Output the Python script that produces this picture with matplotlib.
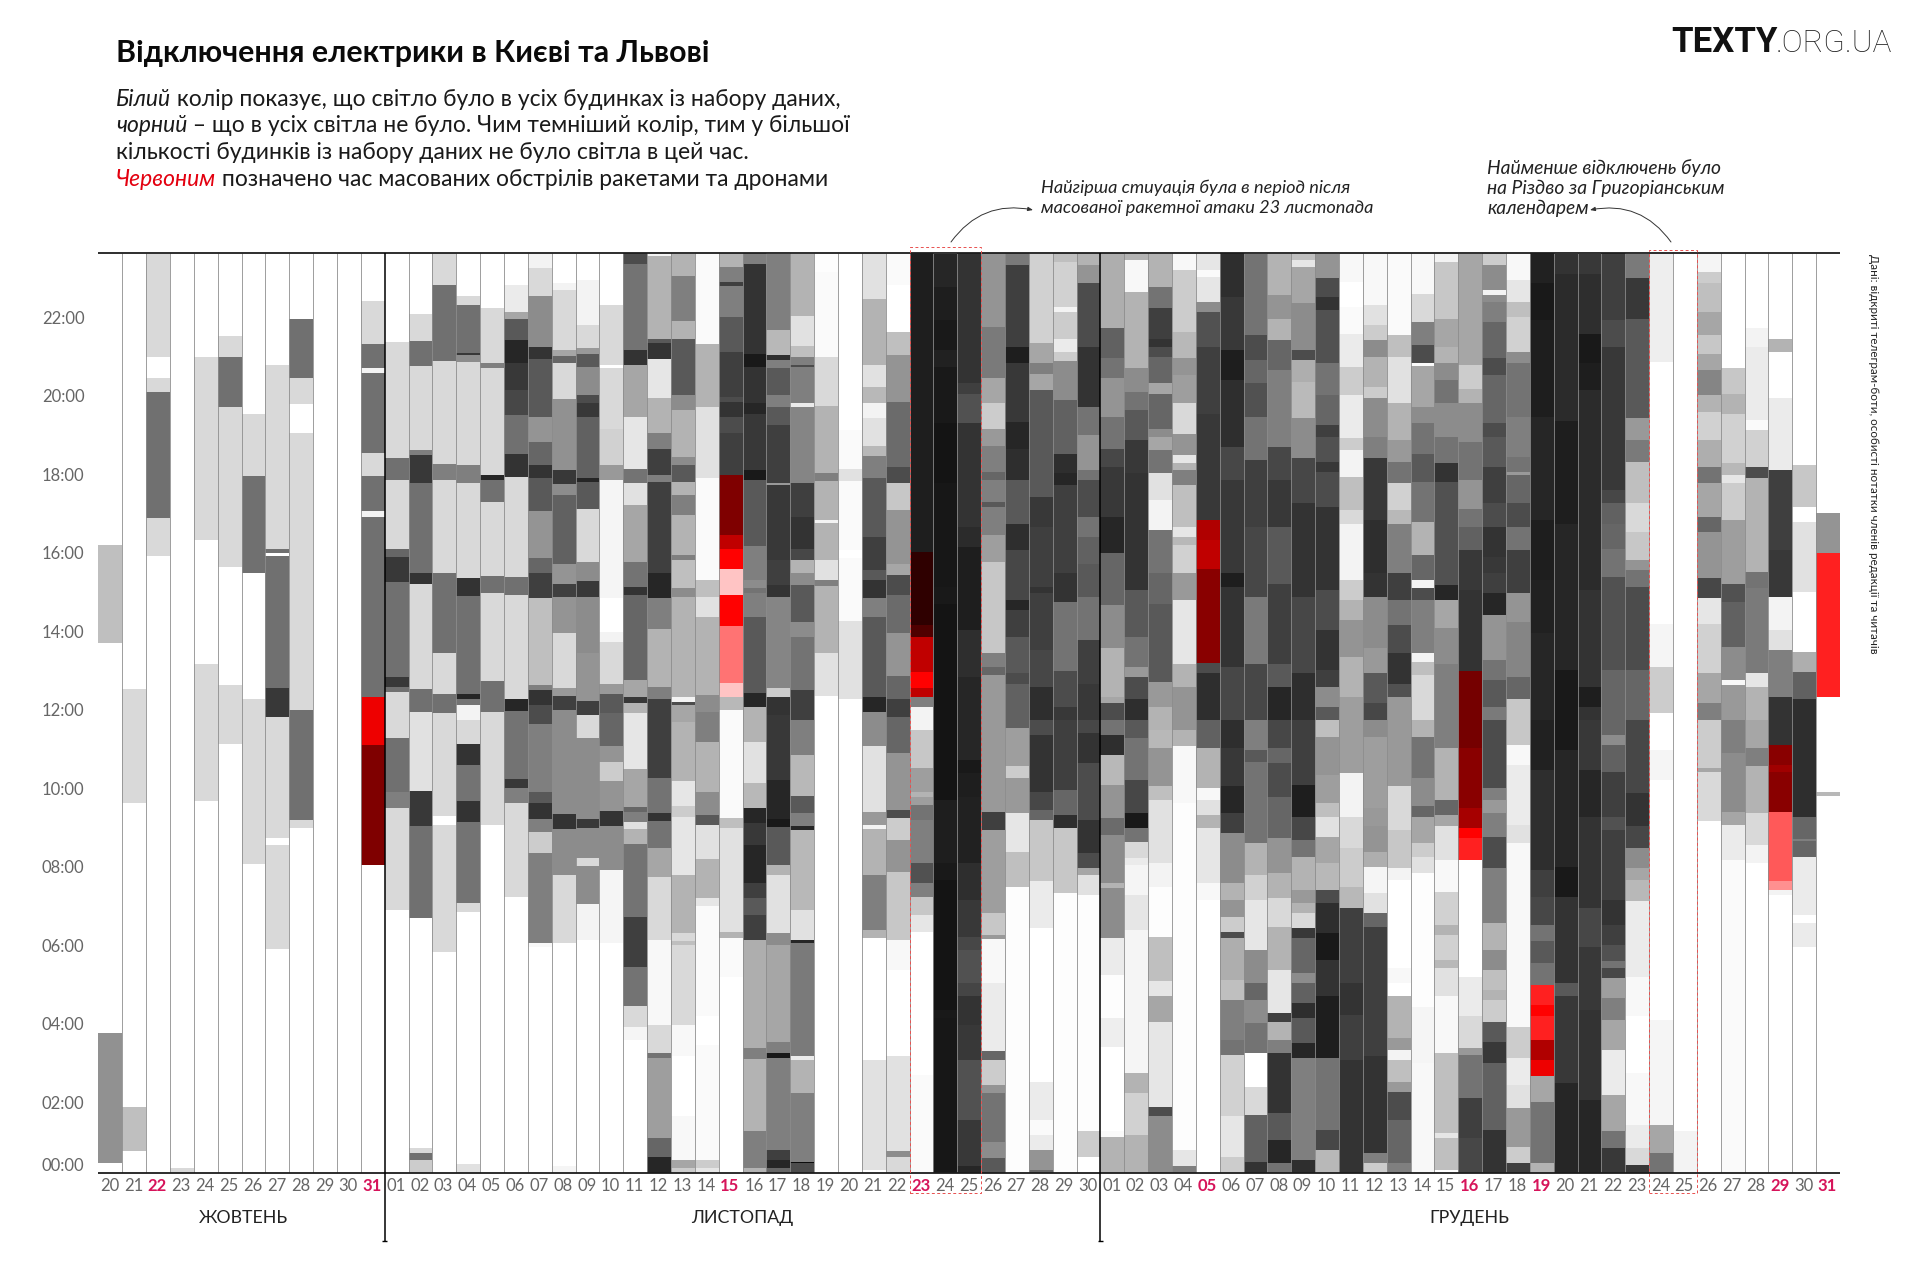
import matplotlib
matplotlib.use("Agg")
import matplotlib.pyplot as plt
from matplotlib.colors import LinearSegmentedColormap
from matplotlib.patches import Rectangle

# Each day: (upper edge in hours, share of houses without power); a segment runs down to the next edge.
oct_20 = [(23.63,0),(16.2,.25),(13.7,0),(3.78,.43),(.45,0)]
oct_21 = [(23.63,0),(12.53,.15),(9.62,0),(1.87,.25),(.77,0)]
oct_22 = [(23.63,.15),(21.0,0),(20.45,.15),(20.1,.56),(16.9,.15),(15.92,0)]
oct_23 = [(23.63,0),(.32,.15)]
oct_24 = [(23.63,0),(21.0,.15),(16.33,0),(13.17,.15),(9.69,0)]
oct_25 = [(23.63,0),(21.52,.15),(20.98,.56),(19.72,.15),(15.63,0),(12.63,.15),(11.13,0)]
oct_26 = [(23.63,0),(19.54,.15),(17.97,.56),(15.48,0),(12.29,.15),(8.08,0)]
oct_27 = [(23.63,0),(20.78,.15),(16.11,.56),(15.99,0),(15.93,.56),(12.57,.78),(11.81,.15),(8.73,0),(8.56,.15),(5.92,0)]
oct_28 = [(23.63,0),(21.97,.56),(20.45,.15),(19.79,0),(19.05,.15),(12.0,.56),(9.2,.15),(8.98,0)]
oct_29 = [(23.63,0)]
oct_30 = [(23.63,0)]
oct_31 = [(23.63,0),(22.42,.15),(21.32,.56),(20.72,.05),(20.59,.56),(18.55,.15),(17.97,.56),(17.07,.05),(16.92,.56),(12.32,0)]

nov_01 = [(23.63,0),(21.38,.15),(18.41,.56),(17.87,.15),(16.11,.6),(15.9,.78),(15.25,.56),(12.83,.78),(12.59,.56),(12.45,.15),(11.28,.56),(9.92,.5),(9.5,.15),(6.9,0)]
nov_02 = [(23.63,0),(22.1,.15),(21.4,.56),(20.76,.15),(18.62,.5),(18.49,.78),(17.77,.56),(15.49,.8),(15.22,.15),(12.53,.56),(11.95,.12),(9.94,.78),(9.03,.56),(6.69,0),(.83,.15),(.7,.56),(.53,.2)]
nov_03 = [(23.63,.15),(22.82,.56),(20.9,.15),(18.26,.5),(17.87,.15),(15.48,.56),(13.44,.15),(12.4,.56),(11.91,.15),(9.3,0),(9.07,.15),(5.84,0)]
nov_04 = [(23.63,0),(22.54,.15),(22.31,.56),(21.1,.78),(21.04,.45),(20.86,.15),(18.24,.5),(17.79,.15),(15.35,.8),(14.91,.56),(12.4,.85),(12.29,.55),(12.12,.05),(11.74,.15),(11.13,.8),(10.6,.55),(9.68,.8),(9.15,.55),(7.07,.15),(6.86,0),(.42,.12)]
nov_05 = [(23.63,0),(22.25,.15),(20.83,.5),(20.7,.15),(17.98,.85),(17.87,.56),(17.29,.15),(15.41,.56),(14.99,.15),(12.74,.56),(11.95,.15),(9.07,0)]
nov_06 = [(23.63,0),(22.84,.08),(22.14,.35),(21.95,.65),(21.42,.85),(20.83,.78),(20.15,.72),(19.51,.56),(18.53,.8),(17.94,.15),(15.38,.56),(14.93,.15),(12.27,.85),(11.98,.55),(10.23,.78),(10.0,.5),(9.62,.15),(7.23,0)]
nov_07 = [(23.63,.05),(23.27,.15),(22.54,.45),(21.24,.8),(20.93,.65),(19.47,.42),(18.83,.6),(18.24,.8),(17.92,.65),(17.07,.42),(15.86,.6),(15.5,.75),(14.84,.25),(12.63,.5),(12.5,.8),(12.12,.7),(11.64,.5),(9.92,.65),(9.62,.8),(9.21,.5),(8.9,.2),(8.35,.5),(6.07,.03),(5.97,0)]
nov_08 = [(23.63,0),(22.87,.05),(22.71,.15),(21.17,.35),(21.01,.6),(20.85,.15),(19.91,.43),(18.11,.78),(17.75,.45),(17.47,.62),(15.73,.42),(15.22,.75),(14.87,.42),(13.97,.15),(12.57,.4),(12.35,.75),(12.0,.45),(9.34,.8),(8.96,.45),(7.8,.15),(6.07,0),(.37,.04)]
nov_09 = [(23.63,0),(22.95,.05),(21.8,.15),(21.23,.4),(21.07,.65),(20.73,.45),(20.02,.7),(19.81,.78),(19.47,.62),(17.9,.85),(17.8,.65),(17.13,.15),(15.77,.45),(15.29,.78),(14.88,.45),(13.45,.42),(12.23,.75),(11.87,.15),(11.28,.45),(9.21,.78),(9.0,.45),(8.22,.15),(8.03,.45),(7.06,.05),(6.14,0)]
nov_10 = [(23.63,0),(22.31,.15),(20.79,0),(20.7,.15),(19.17,.18),(18.24,.4),(17.86,.04),(14.84,0),(13.99,.05),(13.74,.15),(12.67,.4),(12.4,.65),(11.91,.6),(11.07,.42),(10.68,.2),(10.2,.42),(9.43,.8),(9.04,.45),(7.92,.04),(6.05,0)]
nov_11 = [(23.63,.7),(23.36,.55),(21.17,.8),(20.79,.35),(19.47,.1),(18.15,.55),(17.77,.12),(17.22,.35),(15.77,.55),(15.14,.8),(14.93,.6),(12.76,.35),(12.32,.78),(12.17,.3),(11.91,.1),(10.49,.35),(9.52,.6),(9.41,.5),(9.15,.12),(8.96,.3),(8.59,.55),(6.72,.75),(5.44,.55),(4.46,.15),(3.93,.04),(3.59,0)]
nov_12 = [(23.63,.05),(23.56,.3),(21.44,.65),(21.34,.8),(20.93,.1),(19.96,.3),(19.06,.5),(18.64,.75),(17.99,.5),(17.81,.75),(15.48,.85),(14.84,.5),(14.05,.3),(12.59,.5),(12.29,.75),(10.26,.55),(9.37,.8),(9.16,.55),(8.47,.35),(7.74,.15),(6.14,.03),(3.97,.15),(3.25,.55),(3.12,.38),(1.09,.6),(.62,.85)]
nov_13 = [(23.63,.3),(23.05,.5),(21.92,.3),(21.44,.65),(20.02,.45),(19.64,.3),(18.45,.45),(18.24,.65),(17.81,.3),(17.47,.5),(16.96,.3),(15.94,.5),(15.82,.25),(15.1,.45),(14.87,.3),(12.34,.05),(12.21,.7),(12.12,.35),(11.68,.3),(10.2,.1),(9.54,.2),(9.28,.1),(7.8,.3),(6.31,.15),(6.1,.25),(6.01,.15),(3.97,.03),(3.17,0),(1.64,.03),(.53,.35),(.32,.2)]
nov_14 = [(23.63,.02),(21.32,.3),(19.72,.12),(17.9,.02),(15.31,.25),(14.88,.12),(14.37,.3),(12.38,.45),(11.95,.5),(11.17,.3),(9.92,.45),(9.32,.65),(9.07,.12),(8.2,.3),(7.2,.1),(7.0,.02),(4.19,0),(3.46,.02),(.53,.2),(.32,.1)]
nov_15 = [(23.63,.3),(23.29,.5),(22.91,.75),(22.8,.5),(22.02,.65),(21.12,.75),(19.98,.7),(19.85,.8),(19.47,.7),(19.05,.75),(12.32,.28),(12.01,.02),(9.24,.25),(8.99,.12),(6.35,.3),(6.18,.02),(5.2,0)]
nov_16 = [(23.63,.5),(23.36,.8),(21.08,.9),(20.74,.8),(19.81,.85),(19.55,.78),(18.11,.9),(17.86,.65),(16.17,.5),(15.31,.45),(15.1,.55),(14.97,.5),(14.37,.65),(12.42,.85),(12.08,.3),(11.17,.12),(10.15,.28),(9.5,.85),(9.11,.78),(8.56,.85),(7.58,.75),(7.2,.65),(6.78,.75),(6.14,.32),(3.38,.5),(3.1,.3),(1.26,.5),(.32,.3)]
nov_17 = [(23.63,.5),(21.68,.28),(21.04,.82),(20.91,.5),(20.7,.65),(20.02,.5),(19.72,.65),(19.26,.75),(17.77,.4),(17.73,.78),(15.82,.75),(15.18,.8),(14.88,.48),(12.55,.2),(12.34,.8),(11.87,.78),(10.22,.85),(9.21,.9),(9.01,.65),(8.05,.3),(7.8,.12),(6.31,.45),(6.01,.35),(3.55,.5),(3.25,.9),(3.12,.5),(.79,.75),(.53,.85),(.32,.6)]
nov_18 = [(23.63,.3),(22.03,.12),(21.27,.25),(21.0,.5),(20.8,.7),(20.74,.5),(19.81,.08),(19.72,.48),(17.77,.75),(16.92,.8),(16.11,.72),(15.82,.3),(15.48,.45),(15.18,.65),(14.25,.45),(13.85,.55),(12.5,.75),(11.74,.5),(10.85,.28),(9.81,.65),(9.37,.5),(9.03,.85),(8.94,.28),(6.9,.12),(6.14,.85),(6.05,.52),(3.17,.08),(3.08,.3),(2.25,.5),(.49,.95),(.45,.7)]
nov_19 = [(23.63,.01),(23.16,.02),(21.0,.15),(19.74,.3),(18.03,.5),(17.84,.3),(16.84,.05),(16.77,.3),(15.82,.12),(15.31,.5),(15.15,.3),(13.44,.12),(12.35,0)]
nov_20 = [(23.63,0),(19.13,.02),(18.15,.12),(17.84,.02),(16.07,0),(15.86,.02),(14.27,.12),(12.27,0)]
nov_21 = [(23.63,.12),(22.46,.3),(20.79,.12),(20.23,.28),(19.81,.05),(19.43,.12),(18.72,.28),(18.47,.5),(17.92,.65),(16.41,.75),(15.56,.65),(15.31,.8),(14.84,.5),(14.37,.65),(12.34,.85),(11.95,.45),(11.07,.12),(9.41,.4),(9.07,.05),(8.96,.3),(7.8,.5),(6.4,.3),(6.18,0),(3.08,.12),(.28,0)]
nov_22 = [(23.63,.02),(22.82,0),(21.63,.25),(21.04,.42),(19.85,.58),(18.2,.7),(17.77,.22),(17.09,.42),(15.73,.35),(15.44,.7),(14.93,.58),(13.95,.42),(12.86,.6),(12.29,.75),(11.82,.6),(10.91,.42),(9.45,.7),(9.24,.2),(8.69,.42),(7.86,.22),(6.14,.03),(5.37,0),(3.17,.12),(.75,.45),(.62,.15)]
nov_23 = [(23.63,.88),(12.32,.5),(12.08,.05),(11.49,.22),(10.51,.38),(9.92,.3),(9.79,.38),(9.58,.55),(9.2,.5),(8.09,.68),(7.58,.5),(7.24,.22),(6.78,.1),(6.33,0),(2.7,.02)]
nov_24 = [(23.63,.85),(22.78,.88),(21.93,.9),(21.17,.87),(20.74,.9),(19.3,.92),(17.77,.91),(15.14,.9),(14.71,.92),(9.71,.88),(8.09,.9),(7.67,.92),(4.36,.9),(4.15,.91)]
nov_25 = [(23.63,.8),(20.32,.75),(20.06,.68),(19.3,.8),(16.67,.83),(16.16,.88),(14.03,.82),(12.84,.85),(10.73,.9),(10.39,.88),(9.79,.87),(8.09,.82),(7.16,.78),(6.22,.72),(5.89,.68),(5.04,.73),(4.7,.8),(3.97,.78),(3.08,.68),(1.55,.78),(.37,.85)]
nov_26 = [(23.63,.42),(21.76,.52),(20.47,.35),(19.81,.2),(19.17,.4),(18.72,.5),(18.07,.6),(17.86,.5),(17.3,.65),(17.18,.5),(16.45,.38),(15.77,.22),(13.44,.5),(13.1,.6),(12.89,.4),(9.41,.75),(8.94,.38),(6.82,.22),(6.27,.4),(6.16,.03),(5.04,.08),(3.3,.6),(3.08,.2),(2.45,.42),(2.25,.55),(1.0,.45),(.58,.65)]
nov_27 = [(23.63,.52),(23.33,.75),(21.25,.88),(20.83,.78),(19.34,.85),(18.66,.82),(17.86,.65),(16.75,.82),(16.07,.72),(14.8,.85),(14.54,.75),(13.86,.65),(12.93,.7),(12.67,.62),(11.53,.38),(10.56,.2),(10.26,.4),(9.37,.1),(8.39,.25),(7.5,.01)]
nov_28 = [(23.63,.18),(21.34,.35),(20.83,.5),(20.57,.35),(20.15,.65),(17.43,.78),(16.67,.75),(15.14,.8),(14.97,.75),(13.52,.72),(12.59,.82),(11.74,.7),(11.36,.8),(9.92,.72),(9.45,.6),(9.2,.22),(7.63,.08),(6.44,0),(2.53,.08),(1.55,.02),(1.17,.08),(.79,.42),(.28,.6)]
nov_29 = [(23.63,.25),(23.42,.18),(22.27,.05),(22.14,.2),(21.44,.08),(21.12,.2),(20.9,.45),(19.89,.62),(18.53,.82),(18.03,.85),(17.73,.75),(15.48,.8),(14.76,.55),(13.0,.7),(12.08,.78),(11.74,.75),(9.96,.6),(9.32,.82),(8.99,.22),(7.33,.01)]
nov_30 = [(23.63,.3),(23.33,.42),(22.87,.7),(21.25,.8),(19.72,.55),(19.0,.42),(18.11,.55),(17.86,.7),(16.92,.55),(16.41,.62),(15.73,.65),(14.88,.55),(13.78,.75),(12.67,.78),(11.74,.72),(11.4,.8),(10.64,.7),(9.2,.8),(8.35,.7),(7.97,.35),(7.8,.12),(7.29,.01),(1.26,.2),(.62,0)]

dec_01 = [(23.63,.32),(21.72,.62),(20.96,.55),(20.45,.42),(19.47,.55),(18.66,.72),(18.2,.78),(16.92,.85),(15.99,.6),(14.67,.45),(13.57,.3),(12.34,.35),(12.17,.7),(11.74,.55),(11.36,.82),(10.85,.28),(10.09,.42),(9.24,.58),(8.82,.45),(7.58,.3),(7.46,.45),(6.18,.08),(5.25,.01),(4.14,.07),(3.42,0),(1.26,.02),(1.13,.3)]
dec_02 = [(23.63,.3),(23.46,.03),(22.65,.3),(20.7,.45),(20.1,.55),(19.64,.65),(18.87,.78),(18.03,.8),(15.05,.65),(13.86,.55),(13.1,.4),(12.84,.7),(12.29,.82),(11.74,.65),(11.28,.55),(10.22,.72),(9.37,.9),(8.99,.55),(8.64,.15),(8.22,.08),(8.05,.04),(7.29,.1),(6.4,.04),(2.74,.3),(2.23,.18),(1.17,.3)]
dec_03 = [(23.63,.3),(22.78,.55),(22.23,.75),(21.46,.8),(21.25,.7),(21.0,.6),(20.32,.35),(20.06,.6),(19.17,.45),(18.96,.35),(18.62,.55),(18.03,.12),(17.35,.05),(16.58,.55),(15.48,.6),(14.71,.65),(12.72,.4),(12.08,.3),(11.49,.28),(11.02,.42),(10.05,.25),(9.71,.12),(8.09,.05),(7.5,.01),(6.22,.25),(5.08,.1),(4.7,.35),(4.06,.1),(1.89,.7),(1.64,.45)]
dec_04 = [(23.63,.03),(23.2,.2),(21.63,.28),(20.96,.42),(20.53,.38),(19.81,.15),(19.04,.42),(18.49,.1),(18.28,.3),(18.11,.5),(17.73,.25),(16.67,.1),(16.41,.28),(16.2,.18),(15.48,.4),(14.8,.1),(13.18,.3),(12.59,.42),(11.49,.3),(11.07,.03),(9.62,.01),(.79,.1),(.37,.5)]
dec_05 = [(23.63,.1),(23.2,.02),(23.04,.1),(22.4,.45),(22.14,.68),(21.25,.75),(19.55,.78),(13.2,.7),(12.93,.82),(11.74,.62),(11.02,.3),(10.0,.03),(9.71,.12),(9.32,.3),(8.99,.1),(7.58,.03),(7.16,0)]
dec_06 = [(23.63,.82),(22.53,.78),(21.17,.88),(20.4,.82),(18.7,.72),(17.86,.78),(15.48,.88),(15.14,.8),(13.1,.72),(11.74,.82),(11.02,.78),(10.05,.85),(9.37,.75),(8.86,.45),(7.58,.3),(7.16,.42),(6.73,.2),(6.35,.7),(6.18,.32),(5.12,.25),(4.61,.5),(3.59,.55),(3.21,.18),(1.64,.1),(.62,.2)]
dec_07 = [(23.63,.55),(21.55,.7),(20.91,.6),(20.32,.68),(19.47,.55),(18.37,.75),(16.67,.72),(14.88,.52),(13.18,.72),(11.74,.5),(10.98,.65),(10.68,.55),(8.6,.3),(7.8,.18),(7.16,.1),(5.89,.45),(5.04,.6),(4.61,.45),(4.02,.55),(3.25,0),(2.4,.15),(1.68,.62),(.49,.8)]
dec_08 = [(23.63,.3),(22.57,.42),(21.97,.3),(21.42,.6),(20.66,.5),(18.7,.72),(17.86,.78),(16.67,.65),(15.22,.75),(13.18,.65),(12.59,.85),(11.74,.72),(11.02,.6),(10.64,.7),(9.79,.6),(8.73,.42),(7.84,.3),(7.2,.15),(6.48,.3),(5.37,.1),(4.27,.75),(4.06,.3),(3.59,.5),(3.25,.8),(1.72,.65),(1.04,.85),(.45,.55)]
dec_09 = [(23.63,.25),(23.46,.1),(23.29,.35),(22.36,.45),(21.17,.7),(20.91,.32),(20.36,.27),(19.43,.45),(18.41,.72),(17.26,.8),(14.88,.72),(12.93,.82),(11.74,.75),(10.09,.88),(9.28,.72),(8.69,.55),(8.26,.3),(7.41,.4),(7.07,.3),(6.82,.15),(6.44,.78),(6.18,.6),(5.29,.45),(5.04,.62),(4.53,.82),(4.15,.65),(3.51,.85),(3.12,.5),(.53,.82)]
dec_10 = [(23.63,.42),(23.0,.7),(22.53,.8),(22.19,.68),(20.83,.55),(20.02,.6),(19.26,.75),(18.96,.68),(18.32,.78),(18.07,.7),(17.18,.8),(15.05,.7),(14.03,.8),(13.01,.75),(12.59,.45),(12.08,.65),(11.74,.25),(11.32,.42),(10.34,.38),(9.62,.25),(9.28,.12),(8.77,.35),(8.09,.28),(7.41,.7),(7.07,.82),(6.31,.9),(5.63,.8),(4.7,.88),(3.12,.55),(1.3,.72),(.79,.28)]
dec_11 = [(23.63,.03),(22.91,0),(22.27,.02),(21.59,.08),(20.74,.2),(20.02,.08),(18.92,.2),(18.62,.05),(17.94,.25),(17.09,.15),(16.75,.05),(15.31,.2),(14.8,.3),(14.29,.42),(13.35,.3),(12.34,.38),(10.39,.05),(9.28,.15),(8.47,.2),(7.5,.28),(6.95,.75),(5.04,.8),(4.23,.75),(3.08,.8)]
dec_12 = [(23.63,.03),(22.31,.12),(21.8,.2),(21.42,.45),(21.0,.3),(20.23,.2),(19.94,.45),(18.96,.5),(18.41,.78),(16.84,.82),(15.48,.8),(14.88,.45),(13.57,.4),(12.93,.65),(12.17,.72),(11.74,.45),(11.32,.38),(9.5,.4),(9.03,.42),(8.39,.32),(8.01,.04),(7.33,.12),(6.82,.6),(6.48,.75),(3.17,.8),(.7,.5),(.45,.2)]
dec_13 = [(23.63,.02),(21.55,.25),(21.0,.12),(19.81,.3),(18.87,.4),(18.32,.55),(17.77,.18),(17.09,.28),(16.75,.5),(15.48,.75),(14.8,.55),(14.16,.7),(13.44,.8),(12.67,.68),(12.34,.4),(10.05,.15),(8.94,.22),(7.97,.05),(7.67,0),(5.42,.03),(5.04,0),(4.7,.3),(3.63,.4),(3.34,.05),(3.08,.25),(2.53,.4),(2.27,.7),(1.55,.6),(.45,.5)]
dec_14 = [(23.63,.03),(22.61,.15),(21.89,.5),(21.3,.7),(20.83,.02),(20.76,.35),(19.72,.45),(19.3,.55),(18.53,.65),(17.81,.55),(16.79,.3),(15.94,.6),(15.31,.05),(15.1,.7),(14.8,.5),(13.44,.05),(13.23,.25),(12.89,.15),(11.74,.3),(11.32,.55),(10.26,.45),(9.54,.6),(9.28,.35),(8.6,.2),(8.26,.12),(7.84,.01),(4.44,.04),(3.0,.03)]
dec_15 = [(23.63,.05),(23.42,.22),(21.97,.35),(21.25,.3),(20.83,.45),(20.4,.55),(19.81,.45),(18.96,.55),(18.28,.8),(17.81,.68),(15.18,.85),(14.8,.35),(14.08,.45),(13.18,.5),(11.02,.3),(9.71,.6),(9.32,.35),(9.03,.12),(8.18,.03),(7.37,.18),(6.52,.3),(6.27,.18),(5.63,.28),(5.42,.12),(4.7,.03),(3.25,.25),(1.21,.1),(1.09,.25),(.28,0)]
dec_16 = [(23.63,.35),(20.79,.2),(20.19,.3),(19.81,.45),(18.83,.55),(17.86,.42),(17.13,.55),(16.67,.62),(16.07,.78),(15.05,.8),(8.18,0),(5.2,.08),(4.19,.15),(3.38,.4),(3.21,.55),(2.11,.75),(1.09,.72)]
dec_17 = [(23.63,.2),(23.33,.45),(22.7,.05),(22.57,.45),(22.4,.5),(21.89,.6),(20.96,.7),(20.53,.6),(19.3,.7),(18.96,.65),(18.2,.75),(17.26,.7),(16.67,.8),(15.9,.78),(15.48,.75),(14.97,.85),(14.42,.42),(13.27,.55),(12.76,.65),(12.08,.52),(11.74,.7),(10.0,.5),(9.71,.4),(9.37,.5),(8.77,.7),(7.97,.5),(6.56,.3),(5.89,.45),(5.38,.25),(4.87,.3),(4.61,.2),(4.06,.65),(3.55,.78),(3.0,.62),(1.3,.8)]
dec_18 = [(23.63,.03),(22.95,.1),(22.4,.25),(22.02,.18),(21.12,.45),(20.83,.55),(19.47,.5),(18.45,.55),(18.07,.4),(17.98,.6),(17.26,.7),(16.67,.55),(16.07,.75),(14.97,.42),(14.25,.48),(12.84,.6),(12.29,.22),(11.11,.03),(10.6,.08),(9.07,.12),(8.6,.03),(3.93,.2),(3.12,.08),(2.45,.12),(1.85,.4),(.87,.2),(.45,.75)]
dec_19 = [(23.63,.87),(22.87,.9),(21.93,.88),(19.47,.85),(16.84,.88),(15.31,.87),(13.95,.85),(11.74,.87),(10.47,.82),(7.92,.75),(7.24,.72),(6.52,.55),(6.1,.65),(5.55,.55),(2.67,.35),(2.02,.55),(.45,.3)]
dec_20 = [(23.63,.8),(23.12,.83),(19.36,.88),(16.75,.85),(13.01,.9),(10.98,.85),(8.01,.9),(7.24,.8),(5.04,.65),(4.7,.78),(2.49,.85)]
dec_21 = [(23.63,.78),(23.12,.82),(21.59,.9),(20.83,.88),(20.15,.83),(15.05,.8),(12.59,.88),(12.08,.8),(11.74,.78),(10.47,.85),(9.28,.8),(6.95,.72),(5.97,.78),(4.36,.8),(2.06,.85)]
dec_22 = [(23.63,.75),(21.93,.7),(21.25,.78),(17.6,.72),(17.26,.62),(16.75,.6),(16.11,.55),(15.39,.68),(13.01,.6),(11.74,.6),(11.36,.45),(11.11,.62),(10.43,.75),(9.28,.68),(8.94,.75),(7.16,.8),(6.52,.75),(6.01,.68),(5.59,.55),(5.42,.72),(5.16,.38),(4.65,.5),(4.1,.35),(3.34,.08),(2.19,.35),(1.26,.55),(.83,.78)]
dec_23 = [(23.63,.52),(23.0,.78),(21.97,.65),(19.43,.4),(18.87,.52),(18.32,.25),(17.26,.15),(16.54,.22),(15.82,.42),(15.56,.55),(15.14,.7),(13.01,.6),(11.74,.72),(9.88,.8),(9.03,.72),(8.47,.45),(7.97,.35),(7.67,.28),(7.12,.08),(5.2,.03),(4.19,0),(2.74,.03),(1.43,.08),(.83,.15),(.41,.78)]
dec_24 = [(23.63,.07),(20.87,0),(14.2,.04),(13.1,.2),(11.91,0),(10.98,.04),(10.22,0),(4.1,.04),(1.43,.35),(.7,.55)]
dec_25 = [(23.63,0),(1.26,.05)]
dec_26 = [(23.63,.04),(23.16,.2),(22.87,.25),(22.14,.35),(21.55,.22),(21.08,.35),(20.66,.48),(20.02,.3),(19.6,.18),(18.87,.32),(18.2,.55),(17.77,.35),(16.92,.6),(16.54,.42),(15.35,.72),(14.84,.1),(14.2,.18),(12.93,.35),(12.17,.5),(11.74,.2),(10.51,.35),(10.43,.15),(9.16,0)]
dec_27 = [(23.63,0),(20.7,.22),(20.06,.3),(19.55,.18),(18.28,.28),(17.98,.1),(17.77,.2),(16.84,.38),(15.22,.68),(14.76,.62),(13.61,.45),(12.76,.03),(12.63,.4),(11.74,.5),(10.9,.45),(9.41,.35),(9.07,.08),(8.18,.02)]
dec_28 = [(23.63,0),(21.72,.05),(21.25,.08),(19.38,.02),(19.13,.18),(18.2,.7),(17.9,.3),(15.52,.55),(15.1,.52),(12.93,.1),(12.59,.3),(11.74,.35),(11.02,.5),(10.56,.3),(9.37,.15),(8.56,.05),(8.09,0)]
dec_29 = [(23.63,0),(21.46,.3),(21.12,0),(19.94,.08),(18.11,.75),(16.07,.78),(14.88,.05),(14.03,.12),(13.52,.5),(12.34,.8),(7.42,.05),(7.29,0)]
dec_30 = [(23.63,0),(18.24,.22),(17.17,0),(16.8,.12),(15.0,0),(13.48,.32),(12.97,.62),(12.29,.82),(9.28,.6),(8.71,.5),(8.66,.6),(8.26,.08),(6.78,0),(6.57,.08),(5.97,0)]
dec_31 = [(23.63,0),(17.02,.42),(16.0,0),(9.92,.28),(9.81,0)]

# Attack periods drawn in red: (upper hour, lower hour, share without power)
red_oct_31 = [(12.32,11.11,.4),(11.11,8.05,.75)]
red_nov_15 = [(17.98,16.46,.75),(16.46,16.1,.55),(16.1,15.6,.3),(15.6,14.93,.05),(14.93,14.14,.3),(14.14,12.69,.12),(12.69,12.32,.05)]
red_nov_23 = [(16.03,14.16,.95),(14.16,13.85,.88),(13.85,12.97,.55),(12.97,12.55,.3),(12.55,12.32,.55)]
red_dec_05 = [(16.84,16.33,.6),(16.33,15.6,.55),(15.6,13.2,.72)]
red_dec_16 = [(13.0,11.02,.78),(11.02,9.5,.72),(9.5,8.98,.63),(8.98,8.73,.3),(8.73,8.18,.2)]
red_dec_19 = [(5.0,4.49,.2),(4.49,4.19,.3),(4.19,3.59,.2),(3.59,3.08,.6),(3.08,2.67,.4)]
red_dec_29 = [(11.11,10.6,.72),(10.6,10.43,.65),(10.43,9.41,.72),(9.41,7.63,.14),(7.63,7.41,.09)]
red_dec_31 = [(16.0,12.34,.2)]

october = [oct_20,oct_21,oct_22,oct_23,oct_24,oct_25,oct_26,oct_27,oct_28,oct_29,oct_30,oct_31]
november = [nov_01,nov_02,nov_03,nov_04,nov_05,nov_06,nov_07,nov_08,nov_09,nov_10,nov_11,nov_12,nov_13,nov_14,nov_15,nov_16,nov_17,nov_18,nov_19,nov_20,nov_21,nov_22,nov_23,nov_24,nov_25,nov_26,nov_27,nov_28,nov_29,nov_30]
december = [dec_01,dec_02,dec_03,dec_04,dec_05,dec_06,dec_07,dec_08,dec_09,dec_10,dec_11,dec_12,dec_13,dec_14,dec_15,dec_16,dec_17,dec_18,dec_19,dec_20,dec_21,dec_22,dec_23,dec_24,dec_25,dec_26,dec_27,dec_28,dec_29,dec_30,dec_31]
days = october + november + december
day_labels = [f"{d:02d}" for d in range(20,32)] + [f"{d:02d}" for d in range(1,31)] + [f"{d:02d}" for d in range(1,32)]
red_periods = {11:red_oct_31, 26:red_nov_15, 34:red_nov_23, 46:red_dec_05, 57:red_dec_16, 60:red_dec_19, 70:red_dec_29, 72:red_dec_31}
bold_days = [2, 11, 26, 34, 46, 57, 60, 70, 72]
hour_ticks = [.41,2,4,6,8,10,12,14,16,18,20,22]
hour_labels = ["00:00","02:00","04:00","06:00","08:00","10:00","12:00","14:00","16:00","18:00","20:00","22:00"]
months = [(6.1,"ЖОВТЕНЬ"),(27.0,"ЛИСТОПАД"),(57.45,"ГРУДЕНЬ")]

FONT = ["Lato","Open Sans","DejaVu Sans"]
plt.rcParams["font.family"] = FONT
W, H = 1920, 1274
fig = plt.figure(figsize=(W/100, H/100), dpi=100, facecolor="white")
ax = fig.add_axes([98.4/W, (H-1173)/H, (1840-98.4)/W, (1173-253.5)/H])
YLOW, YTOP = .2, 23.63
ax.set_xlim(0, 73); ax.set_ylim(YLOW, YTOP)

gray = plt.get_cmap("gray_r")
red = LinearSegmentedColormap.from_list("red", [(0,"#ffffff"),(.05,"#ffc0c0"),(.09,"#ff9090"),(.12,"#ff7070"),(.14,"#ff5555"),(.2,"#ff2020"),(.3,"#ff0000"),(.4,"#ee0000"),(.55,"#c00000"),(.65,"#a00000"),(.75,"#800000"),(.88,"#500000"),(.95,"#300000"),(1,"#200000")])

for i, col in enumerate(days):
    for j, (up, v) in enumerate(col):
        low = col[j+1][0] if j+1 < len(col) else YLOW
        if v > 0:
            ax.bar(i+.5, up-low, bottom=low, width=1, color=gray(v), linewidth=0, zorder=1)
for i, segs in red_periods.items():
    for up, low, v in segs:
        ax.bar(i+.5, up-low, bottom=low, width=1, color=red(v), linewidth=0, zorder=2)

ax.vlines([x for x in range(1,74) if x not in (12,42)], YLOW, YTOP, color="#8c8c8c", lw=.7, alpha=.85, zorder=3)
for s in ax.spines.values():
    s.set_visible(False)
ax.hlines([YTOP, YLOW], 0, 73, color="#1c1c1c", lw=1.3, zorder=5, clip_on=False)
ax.vlines([12,42], -1.53, YTOP, color="black", lw=1.1, zorder=6, clip_on=False)
ax.hlines([-1.53,-1.53], [11.9,41.9], [12.1,42.1], color="black", lw=1, clip_on=False)

ax.set_xticks([]); ax.set_yticks(hour_ticks)
ax.set_yticklabels(hour_labels, fontsize=12, color="#666666")
ax.tick_params(axis="y", length=0, pad=10)

ylab = -.14
for i, lab in enumerate(day_labels):
    if i in bold_days:
        ax.text(i+.47, ylab, lab, ha="center", va="center", fontsize=12, color="#d6145a", fontweight="bold", clip_on=False)
    else:
        ax.text(i+.47, ylab, lab, ha="center", va="center", fontsize=12, color="#666666", clip_on=False)
for x, lab in months:
    ax.text(x, -.95, lab, ha="center", va="center", fontsize=12.8, color="#222222", clip_on=False)

for rx, rw, ry in [(34,3,23.8),(65,2,23.72)]:
    ax.add_patch(Rectangle((rx,-.31), rw, ry+.31, fill=False, ec="#e8504f", lw=.7, ls=(0,(3,2.5)), zorder=7, clip_on=False))

def T(x, y, s, **kw):
    return fig.text(x/W, 1-y/H, s, va="center", **kw)

T(116, 53, "Відключення електрики в Києві та Львові", fontsize=21.9, fontweight="bold", color="#0a0a0a")

renderer = fig.canvas.get_renderer()
def run(x, y, parts, size):
    for s, style, c in parts:
        t = T(x, y, s, fontsize=size, style=style, color=c)
        x += t.get_window_extent(renderer).width
INK = "#1a1a1a"
run(116,99,[("Білий","italic",INK),(" колір показує, що світло було в усіх будинках із набору даних,","normal",INK)],16.45)
run(116,126,[("чорний","italic",INK),(" – що в усіх світла не було. Чим темніший колір, тим у більшої","normal",INK)],16.45)
run(116,152.5,[("кількості будинків із набору даних не було світла в цей час.","normal",INK)],16.45)
run(116,179,[("Червоним","italic","#e3000f"),(" позначено час масованих обстрілів ракетами та дронами","normal",INK)],16.45)

for y, s in [(188,"Найгірша стиуація була в період після"),(208,"масованої ракетної атаки 23 листопада")]:
    T(1041, y, s, fontsize=13.05, style="italic", color="#222222")
for y, s in [(168,"Найменше відключень було"),(188,"на Різдво за Григоріанським"),(208,"календарем")]:
    T(1487, y, s, fontsize=13.9, style="italic", color="#222222")

for start, end, rad in [((951,H-242),(1033,H-210),-.32),((1671,H-242),(1590,H-210),.32)]:
    ax.annotate("", xy=end, xytext=start, xycoords="figure pixels", textcoords="figure pixels",
                arrowprops=dict(arrowstyle="-|>,head_width=.12,head_length=.3", color="#333333", lw=.7, connectionstyle=f"arc3,rad={rad}", shrinkA=0, shrinkB=0), annotation_clip=False)

logo1 = T(1671, 43, "TEXTY", fontsize=25, fontweight="bold", color="#111111", family=["Liberation Sans Narrow","Roboto","DejaVu Sans"])
lx = 1671 + logo1.get_window_extent(renderer).width
T(lx-2, 43, ".ORG.UA", fontsize=22.6, fontweight="light", color="#222222", family=["Liberation Sans Narrow","Roboto","DejaVu Sans"])

fig.text(1873/W, 1-254/H, "Дані: відкриті телеграм-боти, особисті нотатки членів редакції та читачів", rotation=-90, ha="center", va="top", fontsize=8.4, color="#222222")

fig.savefig("out.png", dpi=100)
